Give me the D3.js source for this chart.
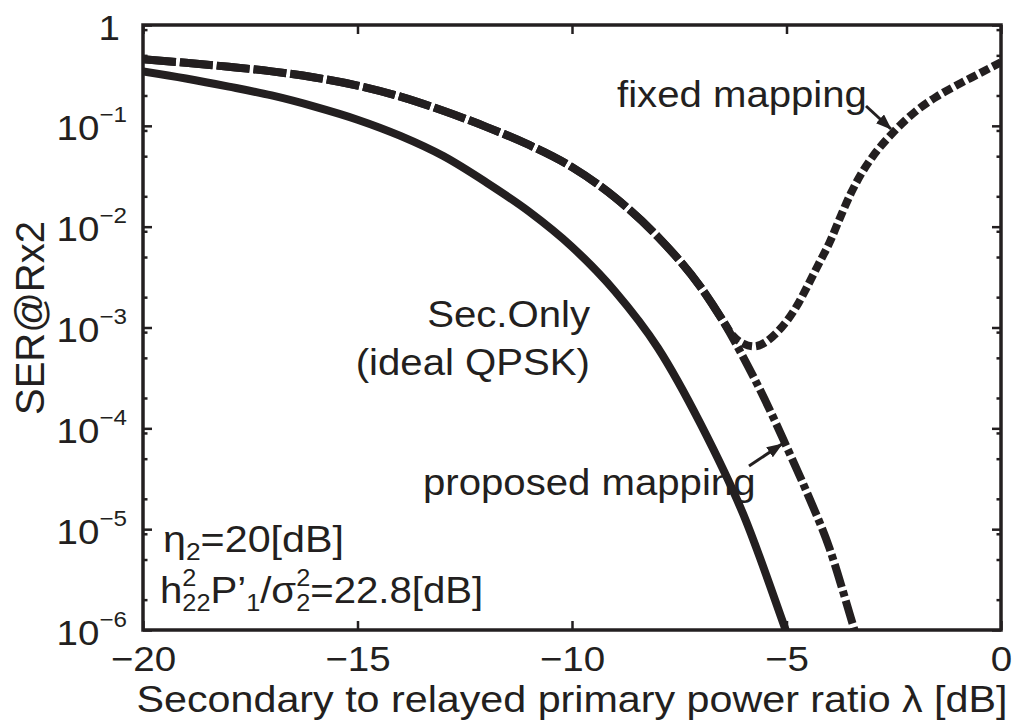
<!DOCTYPE html>
<html>
<head>
<meta charset="utf-8">
<script src="https://cdn.jsdelivr.net/npm/d3@7"></script>
<style>
  html, body { margin: 0; padding: 0; background: #ffffff; }
  svg text { font-family: "Liberation Sans", Arial, Helvetica, sans-serif; fill: #231f20; }
</style>
</head>
<body>
<svg id="chart" width="1019" height="722"></svg>
<script>
// Secondary-only reference (ideal QPSK)
const lambdaSecOnly = [-20, -19, -18, -17, -16, -15, -14, -13, -12, -11, -10, -9, -8, -7, -6, -5, -4.5];
const serSecOnly    = [0.347, 0.295, 0.245, 0.200, 0.155, 0.115, 0.0794, 0.0501, 0.0275, 0.0141, 0.00631, 0.00229, 6.3e-4, 1.10e-4, 1.38e-5, 9.5e-7, 2.4e-7];

// Proposed mapping
const lambdaProposed = [-20, -19, -18, -17, -16, -15, -14, -13, -12, -11, -10, -9, -8, -7, -6.5, -6, -5.5, -5, -4.5, -4, -3.5, -3];
const serProposed    = [0.457, 0.422, 0.385, 0.347, 0.302, 0.251, 0.195, 0.141, 0.0977, 0.0646, 0.0389, 0.0195, 0.00794, 0.00251, 0.00120, 5.0e-4, 1.91e-4, 6.6e-5, 2.19e-5, 6.5e-6, 1.32e-6, 2.5e-7];

// Fixed mapping
const lambdaFixed = [-20, -19, -18, -17, -16, -15, -14, -13, -12, -11, -10, -9, -8, -7, -6.5, -6.25, -6, -5.75, -5.5, -5.25, -5, -4.75, -4.5, -4.25, -4, -3.75, -3.5, -3.25, -3, -2.5, -2, -1.5, -1, -0.5, 0];
const serFixed    = [0.457, 0.422, 0.385, 0.347, 0.302, 0.251, 0.195, 0.141, 0.0977, 0.0646, 0.0389, 0.0195, 0.00794, 0.00251, 0.00120, 8.3e-4, 6.9e-4, 6.5e-4, 7.1e-4, 8.7e-4, 1.15e-3, 1.66e-3, 2.63e-3, 4.27e-3, 6.9e-3, 0.0123, 0.0214, 0.0339, 0.0490, 0.0871, 0.138, 0.195, 0.257, 0.331, 0.427];

// Axis ticks
const xTickValues = [-20, -15, -10, -5, 0];
const yTickExponents = [0, -1, -2, -3, -4, -5, -6];
const yMinorMultipliers = [2, 5, 9];

const ink = "#231f20";
const plot = { left: 143, right: 1001, top: 25, bottom: 630 };
const sx = 1.1;   // horizontal text stretch

const svg = d3.select("#chart");

const x = d3.scaleLinear().domain([-20, 0]).range([plot.left, plot.right]);
const y = d3.scaleLog().domain([1e-6, 1]).range([plot.bottom, plot.top]);

const yMajor = yTickExponents.map(e => Math.pow(10, e));
const yMinor = [];
yTickExponents.slice(1).forEach(e => {
  yMinorMultipliers.forEach(m => yMinor.push(m * Math.pow(10, e)));
});

const defs = svg.append("defs");
defs.append("clipPath").attr("id", "plotClip")
  .append("rect")
  .attr("x", plot.left).attr("y", plot.top)
  .attr("width", plot.right - plot.left).attr("height", plot.bottom - plot.top);

// ---- curves ----
const curves = svg.append("g").attr("clip-path", "url(#plotClip)");

function lineFor(xs, ys) {
  return d3.line()
    .x(d => x(d[0]))
    .y(d => y(d[1]))
    .curve(d3.curveMonotoneX)(xs.map((v, i) => [v, ys[i]]));
}

// dash pattern that changes at a given x position along the path
function splitDash(node, xSplit, patA, patB) {
  const L = node.getTotalLength();
  let lo = 0, hi = L;
  for (let i = 0; i < 40; i++) {
    const m = (lo + hi) / 2;
    if (node.getPointAtLength(m).x < xSplit) lo = m; else hi = m;
  }
  const arr = [];
  let s = 0, k = 0;
  while (s < lo) { const v = patA[k % patA.length]; arr.push(v); s += v; k++; }
  if (arr.length % 2 === 1) arr.push(0);
  k = 0;
  while (s < L + 40) { const v = patB[k % patB.length]; arr.push(v); s += v; k++; }
  if (arr.length % 2 === 1) arr.push(0);
  return arr.join(",");
}

const lw = 8;

curves.append("path")
  .attr("d", lineFor(lambdaSecOnly, serSecOnly))
  .attr("fill", "none").attr("stroke", ink).attr("stroke-width", lw)
  .attr("stroke-linejoin", "round");

const propPath = curves.append("path")
  .attr("d", lineFor(lambdaProposed, serProposed))
  .attr("fill", "none").attr("stroke", ink).attr("stroke-width", lw)
  .attr("stroke-linejoin", "round");
propPath.attr("stroke-dasharray", splitDash(propPath.node(), x(-6.5), [33, 4], [24, 4, 6, 4]));

const fixedPath = curves.append("path")
  .attr("d", lineFor(lambdaFixed, serFixed))
  .attr("fill", "none").attr("stroke", ink).attr("stroke-width", lw)
  .attr("stroke-linejoin", "round");
fixedPath.attr("stroke-dasharray", splitDash(fixedPath.node(), x(-6.5), [33, 4], [10, 4]));

// ---- axes (ticks inward, mirrored on top/right) ----
function styleAxis(g) {
  g.selectAll(".domain").remove();
  g.selectAll(".tick line").attr("stroke", ink).attr("stroke-width", 2.5);
}

const gx = svg.append("g").attr("transform", `translate(0,${plot.bottom})`)
  .call(d3.axisBottom(x).tickValues(xTickValues).tickSize(-9).tickPadding(0).tickFormat(d3.format("d")))
  .call(styleAxis);
gx.selectAll(".tick text")
  .attr("y", 41).attr("dy", null)
  .attr("transform", `scale(${sx},1)`)
  .style("font-size", "35px").attr("fill", ink);

svg.append("g").attr("transform", `translate(0,${plot.top})`)
  .call(d3.axisTop(x).tickValues(xTickValues).tickSize(-9).tickFormat(""))
  .call(styleAxis);

const gy = svg.append("g").attr("transform", `translate(${plot.left},0)`)
  .call(d3.axisLeft(y).tickValues(yMajor).tickSize(-9).tickPadding(0).tickFormat(d => d))
  .call(styleAxis);
gy.selectAll(".tick text").each(function(d) {
  const t = d3.select(this);
  const e = Math.round(Math.log10(d));
  t.text(null).attr("x", -16 / sx).attr("dy", null).attr("y", 14)
    .attr("transform", `scale(${sx},1)`)
    .attr("text-anchor", "end").style("font-size", "35px").attr("fill", ink);
  if (e === 0) {
    t.attr("x", -23 / sx).text("1");
  } else {
    t.append("tspan").text("10");
    t.append("tspan").attr("dy", -18).style("font-size", "22px").text("\u2212" + (-e));
  }
});

svg.append("g").attr("transform", `translate(${plot.left},0)`)
  .call(d3.axisLeft(y).tickValues(yMinor).tickSize(-4.5).tickFormat(""))
  .call(styleAxis);

svg.append("g").attr("transform", `translate(${plot.right},0)`)
  .call(d3.axisRight(y).tickValues(yMajor).tickSize(-9).tickFormat(""))
  .call(styleAxis);
svg.append("g").attr("transform", `translate(${plot.right},0)`)
  .call(d3.axisRight(y).tickValues(yMinor).tickSize(-4.5).tickFormat(""))
  .call(styleAxis);

// frame
svg.append("rect")
  .attr("x", plot.left).attr("y", plot.top)
  .attr("width", plot.right - plot.left).attr("height", plot.bottom - plot.top)
  .attr("fill", "none").attr("stroke", ink).attr("stroke-width", 3.5);

// ---- text helpers ----
function label(parent, x0, y0, str, size, anchor) {
  return parent.append("text")
    .attr("transform", `translate(${x0},${y0}) scale(${sx},1)`)
    .attr("text-anchor", anchor || "start")
    .style("font-size", size + "px").text(str);
}

// runs with sub/superscripts; stacked runs share the start x of the previous run
function richText(parent, x0, y0, runs, size) {
  const g = parent.append("g").attr("transform", `translate(${x0},${y0}) scale(${sx},1)`);
  let cx = 0, prevStart = 0;
  runs.forEach(r => {
    const f = r.size || size;
    const start = r.stack ? prevStart : cx;
    const t = g.append("text").attr("x", start).attr("y", r.dy || 0)
      .style("font-size", f + "px").text(r.t);
    const w = t.node().getComputedTextLength();
    if (r.stack) cx = Math.max(cx, start + w);
    else { prevStart = start; cx = start + w; }
  });
  return g;
}

// ---- axis titles ----
label(svg, (plot.left + plot.right) / 2, 712, "Secondary to relayed primary power ratio \u03bb [dB]", 37.5, "middle");

svg.append("text")
  .attr("transform", `translate(44,318) rotate(-90)`)
  .attr("text-anchor", "middle").style("font-size", "40px")
  .text("SER@Rx2");

// ---- annotations ----
const ann = svg.append("g");
const fs = 36.5;

label(ann, 617, 107, "fixed mapping", fs);
label(ann, 590, 327, "Sec.Only", fs, "end");
label(ann, 590, 375, "(ideal QPSK)", fs, "end");
label(ann, 423, 495, "proposed mapping", fs);

// arrows
const marker = defs.append("marker")
  .attr("id", "arrowHead").attr("markerUnits", "userSpaceOnUse")
  .attr("viewBox", "0 0 16 12").attr("refX", 15).attr("refY", 6)
  .attr("markerWidth", 16).attr("markerHeight", 12).attr("orient", "auto");
marker.append("path").attr("d", "M0,0 L16,6 L0,12 Z").attr("fill", ink);

ann.append("line").attr("x1", 866).attr("y1", 106).attr("x2", 891).attr("y2", 129)
  .attr("stroke", ink).attr("stroke-width", 3).attr("marker-end", "url(#arrowHead)");
ann.append("line").attr("x1", 749).attr("y1", 466).attr("x2", 782).attr("y2", 444)
  .attr("stroke", ink).attr("stroke-width", 3).attr("marker-end", "url(#arrowHead)");

richText(ann, 163, 552, [
  { t: "\u03b7" },
  { t: "2", size: 24, dy: 8 },
  { t: "=20[dB]" }
], 37.5);

richText(ann, 160, 603, [
  { t: "h" },
  { t: "2", size: 23, dy: -17 },
  { t: "22", size: 23, dy: 8, stack: true },
  { t: "P\u2019" },
  { t: "1", size: 23, dy: 8 },
  { t: "/\u03c3" },
  { t: "2", size: 23, dy: -17 },
  { t: "2", size: 23, dy: 8, stack: true },
  { t: "=22.8[dB]" }
], 36.5);
</script>
</body>
</html>
